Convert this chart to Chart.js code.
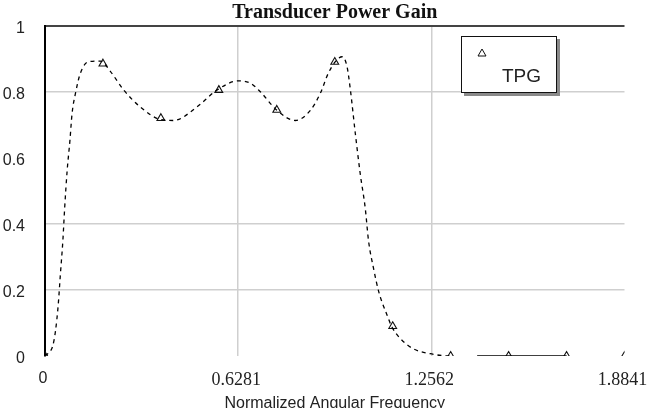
<!DOCTYPE html>
<html>
<head>
<meta charset="utf-8">
<script src="https://cdn.jsdelivr.net/npm/chart.js@4.4.0/dist/chart.umd.min.js"></script>
<style>
  html, body { margin: 0; padding: 0; background: #fff; }
  #wrap { position: relative; width: 647px; height: 408px; overflow: hidden; }
  #legend {
    position: absolute; left: 461px; top: 36px; width: 94px; height: 55px;
    border: 1.5px solid #111; background: #fff; box-shadow: 3px 3px 0 #8a8a8a;
    font-family: "Liberation Sans", Arial, sans-serif;
  }
  #legend svg { position: absolute; left: 15px; top: 11px; }
  #legend span { position: absolute; left: 40px; top: 29px; font-size: 19px; line-height: 1; color: #222; }
</style>
</head>
<body>
<div id="wrap">
  <canvas id="myChart" width="647" height="408"></canvas>
  <div id="legend">
    <svg width="10" height="9"><polygon points="5,1 9,8 1,8" fill="none" stroke="#111" stroke-width="1"/></svg>
    <span>TPG</span>
  </div>
</div>
<script>
// values
const xTicks = [0, 0.6281, 1.2562, 1.8841];

const curveFreq = [0, 0.010, 0.025, 0.034, 0.043, 0.050, 0.058, 0.064, 0.072, 0.081,
  0.088, 0.099, 0.115, 0.142, 0.180, 0.213, 0.256, 0.310, 0.375, 0.418,
  0.494, 0.559, 0.629, 0.668, 0.700, 0.754, 0.814, 0.863, 0.895, 0.921,
  0.944, 0.966, 0.982, 0.993, 1.009, 1.025, 1.041, 1.052, 1.068, 1.085,
  1.112, 1.128, 1.155, 1.197, 1.252, 1.318, 1.405, 1.696, 1.8841];
const curveGain = [0, 0.008, 0.03, 0.075, 0.155, 0.247, 0.348, 0.449, 0.561, 0.652,
  0.734, 0.795, 0.856, 0.891, 0.893, 0.861, 0.805, 0.754, 0.716, 0.713,
  0.754, 0.805, 0.833, 0.826, 0.800, 0.744, 0.713, 0.744, 0.795, 0.856,
  0.891, 0.906, 0.876, 0.805, 0.673, 0.551, 0.449, 0.348, 0.266, 0.195,
  0.124, 0.088, 0.053, 0.022, 0.007, 0, 0, 0, 0];

const markerFreq = [0, 0.1884, 0.3768, 0.5652, 0.7536, 0.9421, 1.1305, 1.3189, 1.5073, 1.6957, 1.8841];
const markerGain = [0, 0.885, 0.72, 0.805, 0.745, 0.89, 0.09, 0, 0, 0, 0];

const sans = "'Liberation Sans', Arial, sans-serif";
const serif = "'Liberation Serif', 'Times New Roman', serif";

const toPoints = (xs, ys) => xs.map((x, i) => ({ x: x, y: ys[i] }));

// tail of the curve: gap, solid run, gap (as in the picture)
const tailStyle = (ctx, solid, gap) => {
  const a = ctx.p0.parsed.x;
  if (a >= 1.31 && a < 1.40) return gap;
  if (a >= 1.40 && a < 1.69) return solid;
  if (a >= 1.69) return gap;
  return undefined;
};

const chart = new Chart(document.getElementById('myChart'), {
  type: 'line',
  data: {
    datasets: [
      {
        label: 'TPG curve',
        data: toPoints(curveFreq, curveGain),
        borderColor: '#000',
        borderWidth: 1.3,
        borderDash: [4, 4],
        cubicInterpolationMode: 'monotone',
        pointRadius: 0,
        fill: false,
        segment: {
          borderDash: ctx => tailStyle(ctx, [], undefined),
          borderColor: ctx => tailStyle(ctx, undefined, 'rgba(0,0,0,0)'),
        },
      },
      {
        label: 'TPG',
        data: toPoints(markerFreq, markerGain),
        showLine: false,
        pointStyle: 'triangle',
        pointRadius: 4.5,
        pointBorderWidth: 1.1,
        pointBorderColor: '#111',
        pointBackgroundColor: 'rgba(0,0,0,0)',
      },
    ],
  },
  options: {
    responsive: false,
    animation: false,
    devicePixelRatio: 1,
    layout: { padding: { left: 0, right: 22.5, top: 0, bottom: 0 } },
    plugins: {
      legend: { display: false },
      tooltip: { enabled: false },
      title: {
        display: true,
        text: 'Transducer Power Gain',
        fullSize: false,
        color: '#111',
        font: { family: serif, size: 20, weight: 'bold', lineHeight: 1.2 },
        padding: { top: 1, bottom: 0.7 },
      },
    },
    scales: {
      x: {
        type: 'linear',
        min: 0,
        max: 1.8841,
        afterBuildTicks: scale => { scale.ticks = xTicks.map(v => ({ value: v })); },
        afterFit: scale => { scale.height = 52; scale.paddingLeft = 0; scale.paddingRight = 0; },
        border: { display: false },
        grid: {
          drawTicks: false,
          lineWidth: 1.5,
          color: ctx => (ctx.index === 1 || ctx.index === 2) ? '#cfcfcf' : 'rgba(0,0,0,0)',
        },
        ticks: {
          padding: 13,
          labelOffset: -2,
          maxRotation: 0,
          color: '#222',
          callback: (v, i) => i === 0 ? '0' : xTicks[i].toFixed(4),
          font: ctx => ctx.index === 0 ? { family: sans, size: 16 } : { family: serif, size: 18 },
        },
        title: {
          display: true,
          text: 'Normalized Angular Frequency',
          color: '#222',
          font: { family: sans, size: 16, lineHeight: 1.2 },
          padding: { top: 0, bottom: -5 },
        },
      },
      y: {
        min: 0,
        max: 1,
        afterFit: scale => { scale.width = 45; scale.paddingTop = 0; scale.paddingBottom = 0; },
        border: { color: '#000', width: 2 },
        grid: {
          drawTicks: false,
          lineWidth: ctx => ctx.tick && ctx.tick.value === 1 ? 2 : 1.5,
          color: ctx => {
            const v = ctx.tick ? ctx.tick.value : 0;
            if (Math.abs(v - 1) < 1e-6) return '#444';
            if (Math.abs(v) < 1e-6 || Math.abs(v - 0.6) < 1e-6) return 'rgba(0,0,0,0)';
            return '#cfcfcf';
          },
        },
        ticks: {
          stepSize: 0.2,
          padding: 20,
          labelOffset: 2.5,
          color: '#222',
          callback: v => String(Math.round(v * 10) / 10),
          font: { family: sans, size: 16 },
        },
      },
    },
  },
});
</script>
</body>
</html>
